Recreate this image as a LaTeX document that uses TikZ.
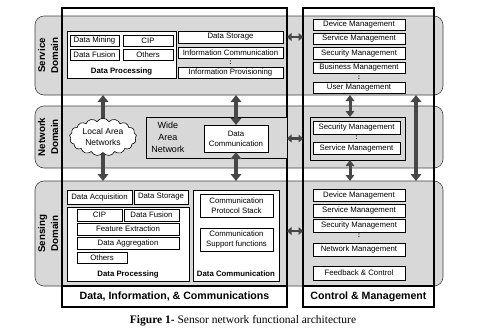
\documentclass[tikz,border=0pt]{standalone}
\usepackage{fontspec}
\setmainfont{Liberation Sans}
\newfontfamily\capfont{Liberation Serif}
\usepackage{tikz}
\usetikzlibrary{arrows.meta,shapes.symbols}
\definecolor{bandgray}{HTML}{D8D8D8}
\definecolor{arrowgray}{HTML}{474747}

\begin{document}
\begin{tikzpicture}[x=1pt, y=-1pt,
  every node/.style={inner sep=0pt, outer sep=0pt, align=center},
  band/.style={draw=black!75, fill=bandgray, rounded corners=9pt, line width=0.6pt,
    minimum width=408pt, minimum height=#1},
  domlabel/.style={rotate=90, font=\bfseries\fontsize{9.8}{13}\selectfont},
  bigbox/.style={draw, line width=1.3pt, minimum width=#1, minimum height=299pt},
  biglabel/.style={font=\bfseries\fontsize{10.6}{12}\selectfont},
  item/.style 2 args={draw, fill=white, line width=0.7pt, font=\fontsize{7.8}{10}\selectfont,
    minimum width=#1pt, minimum height=#2pt},
  group/.style 2 args={draw, fill=white, line width=0.8pt, minimum width=#1pt, minimum height=#2pt},
  graygroup/.style 2 args={draw, fill=bandgray, line width=0.8pt, minimum width=#1pt, minimum height=#2pt},
  grouplabel/.style={font=\bfseries\fontsize{7.8}{9}\selectfont},
  dots/.style={font=\bfseries\fontsize{7}{7}\selectfont},
  varrow/.style={draw=arrowgray, line width=4pt,
    {Triangle[length=7pt,width=10.5pt]}-{Triangle[length=7pt,width=10.5pt]}},
  thinvarrow/.style={draw=arrowgray, line width=3pt,
    {Triangle[length=6pt,width=8.5pt]}-{Triangle[length=6pt,width=8.5pt]}},
  harrow/.style={draw=arrowgray, line width=2.8pt,
    {Triangle[length=4.5pt,width=8pt]}-{Triangle[length=4.5pt,width=8pt]}}
]
  \useasboundingbox (0,0) rectangle (480,333);

  % ======= Domain bands =======
  \node[band=79pt] (service) at (239,55.5) {};
  \node[band=62pt] (network) at (239,137) {};
  \node[band=105pt] (sensing) at (239,233.5) {};
  \node[domlabel] (servicelbl) at (48,55.5) {Service\\Domain};
  \node[domlabel] (networklbl) at (48,137) {Network\\Domain};
  \node[domlabel] (sensinglbl) at (48,233.5) {Sensing\\Domain};

  % columns of the vertical arrows
  \coordinate (lanx) at (103,137);
  \coordinate (mgmtx) at (350,137);
  \coordinate (farx) at (416,137);
  \coordinate (senshy) at (0,231);

  % LAN arrow passes behind the cloud
  \draw[varrow] (lanx |- service.south) -- (lanx |- sensing.north);

  % ======= Two main columns =======
  \node[bigbox=225pt] (dic) at (174.5,157.5) {};
  \node[bigbox=131pt] (cm) at (368.5,157.5) {};

  % ======= Service domain =======
  \node[group={109}{47}] (sdp) at (121.5,54.5) {};
  \node[item={49}{11}] (smine) at (94.5,40.5) {Data Mining};
  \node[item={50}{11}] (scip) at (148,40.5) {CIP};
  \node[item={49}{11}] (sfus) at (94.5,54.5) {Data Fusion};
  \node[item={50}{11}] (soth) at (148,54.5) {Others};
  \node[grouplabel] (sdplbl) at (121.5,71) {Data Processing};

  \node[item={105}{12}] (sstore) at (230.5,37) {Data Storage};
  \node[item={105}{11}] (sinfc) at (230.5,52.5) {Information Communication};
  \node[dots] (sdots) at (230.5,62.5) {:};
  \node[item={105}{11}] (sinfp) at (230.5,72.5) {Information Provisioning};

  \foreach \n/\y/\h/\t in {sdev/24.5/11/Device Management, sser/38.5/11/Service Management,
      ssec/53/12/Security Management, sbus/67.5/11/Business Management,
      susr/87.5/11/User Management} {
    \node[item={92}{\h}] (\n) at (359,\y) {\t};
  }
  \node[dots] (smdots) at (359,77.5) {:};

  % ======= Network domain =======
  \node[graygroup={141}{41}] (wan) at (216.5,137.5) {};
  \node[font=\fontsize{9}{12}\selectfont] (wanlbl) at (168,137) {Wide\\Area\\Network};
  \node[item={64}{27}] (dcn) at (236,138.5) {Data\\Communication};
  \node[cloud, draw, fill=white, line width=0.6pt, cloud puffs=17, cloud puff arc=120, aspect=1.8,
    minimum width=67pt, minimum height=37pt, font=\fontsize{8.5}{11}\selectfont] (lan) at (lanx) {Local Area\\Networks};

  \node[graygroup={95}{43}] (netm) at (357.5,138.5) {};
  \node[item={87}{13}] (nsec) at (356.5,127.5) {Security Management};
  \node[dots] (ndots) at (356.5,137.5) {:};
  \node[item={87}{12}] (nser) at (356.5,148) {Service Management};

  % ======= Sensing domain =======
  \node[item={65}{14}] (acq) at (99.5,197) {Data Acquisition};
  \node[item={54}{14}] (store) at (161,197) {Data Storage};
  \node[group={122}{74}] (dp) at (128,244) {};
  \node[item={45}{12}] (cip) at (99.5,215) {CIP};
  \node[item={55}{12}] (fus) at (151.5,215) {Data Fusion};
  \node[item={102}{12}] (feat) at (128,229) {Feature Extraction};
  \node[item={102}{12}] (aggr) at (128,243) {Data Aggregation};
  \node[item={50}{11}] (oth) at (102,257.5) {Others};
  \node[grouplabel] (dplbl) at (128,274) {Data Processing};

  \node[group={86}{91}] (dc) at (236,235.5) {};
  \node[item={73}{23}] (stack) at (236.5,205.5) {Communication\\Protocol Stack};
  \node[item={73}{23}] (supp) at (236.5,239.5) {Communication\\Support functions};
  \node[grouplabel] (dclbl) at (236,274) {Data Communication};

  \foreach \n/\y/\h/\t in {dev/195/12/Device Management, ser/210.5/13/Service Management,
      sec/225.5/13/Security Management, net/249.5/13/Network Management,
      feed/273/14/Feedback \& Control} {
    \node[item={92}{\h}] (\n) at (359,\y) {\t};
  }
  \node[dots] (mdots) at (359,236) {:};

  % ======= Arrows =======
  \draw[harrow] (dic.east |- sstore) -- (cm.west |- sstore);
  \draw[harrow] (dic.east |- dcn) -- (cm.west |- dcn);
  \draw[harrow] (dic.east |- senshy) -- (cm.west |- senshy);

  \draw[varrow] (dcn |- service.south) -- (dcn.north);
  \draw[varrow] (dcn.south) -- (dcn |- sensing.north);
  \draw[thinvarrow] (mgmtx |- service.south) -- (mgmtx |- netm.north);
  \draw[thinvarrow] (mgmtx |- netm.south) -- (mgmtx |- sensing.north);
  \draw[varrow] (farx |- service.south) -- (farx |- sensing.north);

  % ======= Column titles =======
  \draw[line width=1.3pt] (dic.west |- sensing.south) -- (dic.east |- sensing.south);
  \draw[line width=1.3pt] (cm.west |- sensing.south) -- (cm.east |- sensing.south);
  \node[biglabel] (diclbl) at (174.5,296.5) {Data, Information, \& Communications};
  \node[biglabel] (cmlbl) at (368.5,296.5) {Control \& Management};

  \node[font=\capfont\fontsize{11.5}{13}\selectfont] (caption) at (243,321)
    {\textbf{Figure 1-} Sensor network functional architecture};
\end{tikzpicture}
\end{document}
